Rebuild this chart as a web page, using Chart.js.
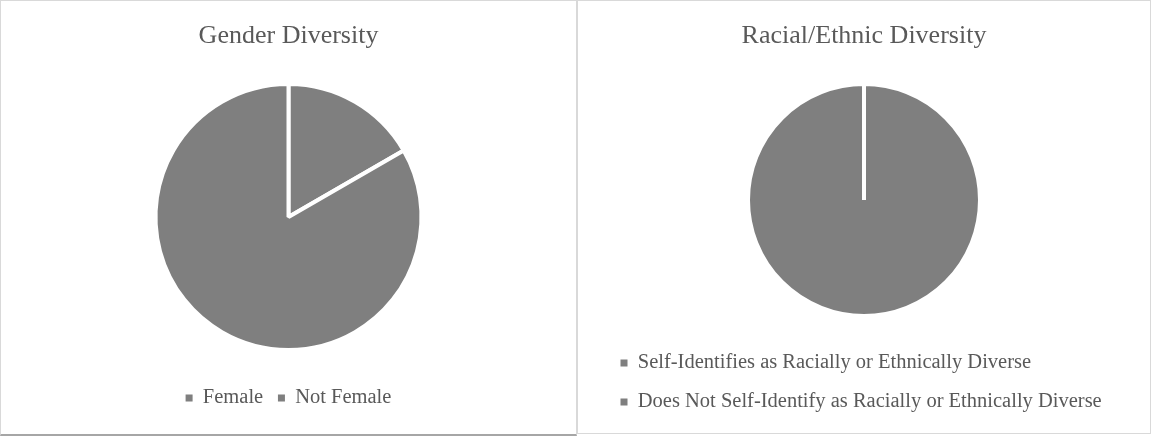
<!DOCTYPE html>
<html>
<head>
<meta charset="utf-8">
<script src="https://cdn.jsdelivr.net/npm/chart.js@4"></script>
<style>
  html, body { margin: 0; padding: 0; background: #fff; }
  body { width: 1151px; height: 436px; position: relative; overflow: hidden; }
  .panel { position: absolute; top: 0; box-sizing: border-box; border: 1px solid #d9d9d9; background: #fff; }
  #panelGenero { left: 0; width: 577px; height: 436px; border-bottom: 2px solid #a6a6a6; }
  #panelRaza { left: 577px; width: 574px; height: 434px; }
  canvas { display: block; }
</style>
</head>
<body>
<div class="panel" id="panelGenero"><canvas id="chartGenero" width="575" height="433"></canvas></div>
<div class="panel" id="panelRaza"><canvas id="chartRaza" width="572" height="432"></canvas></div>
<script>
const generoEtiquetas = ["Female", "Not Female"];
const generoValores = [1, 5];

const razaEtiquetas = [
  "Self-Identifies as Racially or Ethnically Diverse",
  "Does Not Self-Identify as Racially or Ethnically Diverse"
];
const razaValores = [0, 6];

const gris = "#7f7f7f";
const textoGris = "#595959";
const fuente = "'Liberation Serif', 'Times New Roman', serif";

// leyenda sin el borde blanco de las porciones
function etiquetasLeyenda(chart) {
  const base = Chart.overrides.pie.plugins.legend.labels.generateLabels(chart);
  return base.map(item => ({ ...item, lineWidth: 0, fontColor: textoGris }));
}

function crearPastel(id, titulo, etiquetas, valores, cfg) {
  return new Chart(document.getElementById(id), {
    type: "pie",
    data: {
      labels: etiquetas,
      datasets: [{
        data: valores,
        backgroundColor: etiquetas.map(() => gris),
        borderColor: "#ffffff",
        borderWidth: 4
      }]
    },
    options: {
      responsive: false,
      animation: false,
      radius: cfg.radio,
      layout: { padding: cfg.padding },
      plugins: {
        title: {
          display: true,
          text: titulo,
          color: textoGris,
          font: { family: fuente, size: 26, weight: "normal" },
          padding: cfg.paddingTitulo
        },
        legend: {
          position: "bottom",
          align: cfg.alinear,
          labels: {
            color: textoGris,
            font: { family: fuente, size: 20.5 },
            boxWidth: 7,
            boxHeight: 7,
            padding: cfg.paddingLeyenda,
            generateLabels: etiquetasLeyenda
          }
        },
        tooltip: { enabled: false }
      }
    }
  });
}

crearPastel("chartGenero", "Gender Diversity", generoEtiquetas, generoValores, {
  radio: 133,
  padding: { top: 0, bottom: 15.75, left: 0, right: 0 },
  paddingTitulo: { top: 19.4, bottom: 9.4 },
  paddingLeyenda: 14.75,
  alinear: "center"
});

crearPastel("chartRaza", "Racial/Ethnic Diversity", razaEtiquetas, razaValores, {
  radio: 116,
  padding: { top: 0, bottom: 10.75, left: 24, right: 24 },
  paddingTitulo: { top: 19.4, bottom: 14.15 },
  paddingLeyenda: 18.5,
  alinear: "start"
});
</script>
</body>
</html>
